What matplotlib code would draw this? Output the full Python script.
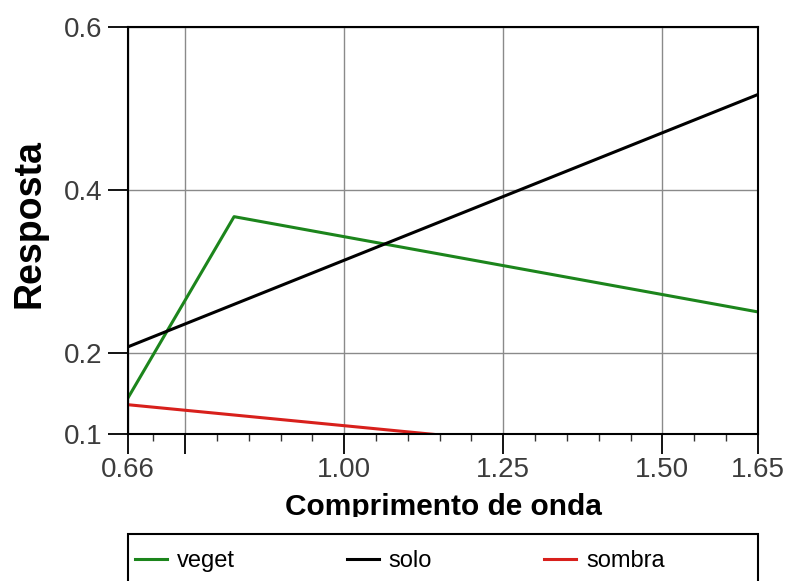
import matplotlib.pyplot as plt
from matplotlib.patches import Rectangle
from matplotlib.lines import Line2D
from matplotlib.ticker import MultipleLocator
from matplotlib.transforms import Bbox, TransformedBbox

plt.rcParams['font.family'] = ['Liberation Sans', 'DejaVu Sans']

# valores (comprimento de onda x resposta)
veget_x = [0.66, 0.827, 1.65]
veget_y = [0.144, 0.367, 0.250]
solo_x = [0.66, 1.65]
solo_y = [0.207, 0.517]
sombra_x = [0.66, 1.161]
sombra_y = [0.136, 0.098]

series = ['veget', 'solo', 'sombra']
cores = ['#1c851c', '#000000', '#d8201c']

xticks = [0.66, 0.75, 1.00, 1.25, 1.50, 1.65]
xlabels = ['0.66', '', '1.00', '1.25', '1.50', '1.65']
yticks = [0.1, 0.2, 0.4, 0.6]
ylabels = ['0.1', '0.2', '0.4', '0.6']

W, H = 789, 581
fig = plt.figure(figsize=(W / 100, H / 100), dpi=100)
ax = fig.add_axes([127.8 / W, 1 - 434 / H, 630 / W, 407 / H])

ax.plot(veget_x, veget_y, color=cores[0], lw=2.2, label=series[0])
ax.plot(solo_x, solo_y, color=cores[1], lw=2.2, label=series[1])
ax.plot(sombra_x, sombra_y, color=cores[2], lw=2.2, label=series[2])

ax.set_xlim(0.66, 1.65)
ax.set_ylim(0.1, 0.6)
ax.set_xticks(xticks)
ax.set_xticklabels(xlabels)
ax.set_yticks(yticks)
ax.set_yticklabels(ylabels)
ax.xaxis.set_minor_locator(MultipleLocator(0.05))

ax.tick_params(which='major', length=14.5, width=1.3, direction='out',
               labelsize=20, labelcolor='#3c3c3c', color='black')
ax.tick_params(axis='x', which='major', pad=2)
ax.tick_params(axis='y', which='major', pad=4)
ax.tick_params(which='minor', length=5, width=1.0, color='#333333')

ax.grid(which='major', color='#8a8a8a', lw=1.0)
for s in ax.spines.values():
    s.set_linewidth(1.5)
    s.set_color('black')

# rotulos dos eixos
fig.text(30 / W, 1 - 224 / H, 'Resposta', rotation=90, ha='center', va='center',
         fontsize=27, fontweight='bold')
xl = fig.text(443 / W, 1 - 515 / H, 'Comprimento de onda', ha='center', va='baseline',
              fontsize=21.5, fontweight='bold')
# o rotulo aparece cortado logo abaixo da linha de base
xl.set_clip_box(TransformedBbox(Bbox([[0, 1 - 517 / H], [1, 1]]), fig.transFigure))
xl.set_clip_on(True)

# caixa da legenda
fig.patches.append(Rectangle((127.8 / W, 1 - 600 / H), 630 / W, 66 / H,
                             transform=fig.transFigure, fill=False,
                             edgecolor='black', lw=1.5))
handles = [Line2D([], [], color=c, lw=2.2) for c in cores]
fig.legend(handles, series, ncol=3, loc='center left',
           bbox_to_anchor=(135 / W, 1 - 561 / H), bbox_transform=fig.transFigure,
           frameon=False, fontsize=17, borderpad=0, borderaxespad=0,
           handlelength=1.35, handletextpad=0.42, columnspacing=4.75)

fig.savefig('out.png', dpi=100)
